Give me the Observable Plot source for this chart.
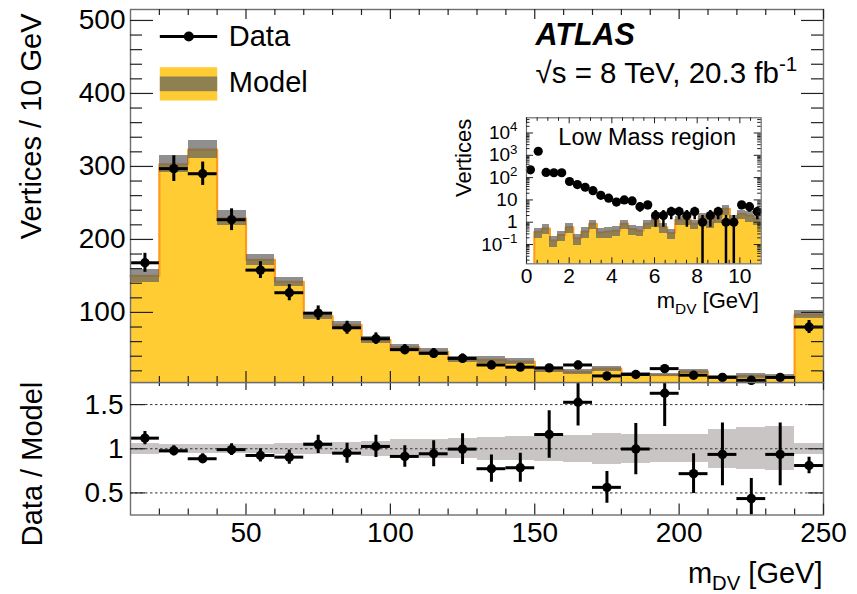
<!DOCTYPE html>
<html><head><meta charset="utf-8">
<script src="https://cdn.jsdelivr.net/npm/d3@7"></script>
<script src="https://cdn.jsdelivr.net/npm/@observablehq/plot@0.6"></script>
<style>
body{margin:0;background:#fff;}
#chart{position:relative;width:857px;height:594px;}
#chart svg{position:absolute;left:0;top:0;}
</style></head><body><div id="chart"></div>
<script>
// ---------------- DATA: main panel (10 GeV bins of m_DV) ----------------
const binEdges = [10,20,30,40,50,60,70,80,90,100,110,120,130,140,150,160,170,180,190,200,210,220,230,240,250];
const modelVertices = [150,303,323,229,172,142,95,83,62,52,46,36,35,32.5,21,18.5,23,15.5,14.2,19,11.5,13,11.5,97];
const modelUnc = [9,11.5,12,10.3,8,6,5,5,4.5,4.5,4.5,4,4.5,4.5,3,3,3.5,2.5,2.2,3,2.5,3,3,5];
const dataVertices = [168,297,290,227,158,127,99,79,64,49,44,37,28,25,24,28,13,15,23,14,11,7,11,80];
const dataUnc = [13,17.6,16,14.9,11.5,11,9.9,8.9,8,7,6.6,6.1,5.3,5,4.9,5.3,3.6,3.9,4.8,3.7,3.3,2.6,3.3,8.9];
// ratio panel
const ratioValues = [1.12,0.977,0.887,0.99,0.924,0.905,1.05,0.95,1.026,0.913,0.943,0.996,0.774,0.785,1.161,1.526,0.563,0.997,1.628,0.718,0.936,0.436,0.936,0.81];
const ratioUnc = [0.075,0.057,0.055,0.066,0.075,0.08,0.103,0.113,0.126,0.122,0.147,0.175,0.154,0.164,0.269,0.269,0.179,0.29,0.376,0.224,0.355,0.226,0.355,0.094];
const ratioBand = [0.064,0.05,0.05,0.05,0.05,0.064,0.07,0.07,0.087,0.1,0.107,0.113,0.13,0.137,0.145,0.15,0.173,0.165,0.156,0.156,0.22,0.24,0.248,0.06];
// ---------------- DATA: inset (Low Mass region) ----------------
const insetEdges = [0,0.367,0.733,1.1,1.467,1.833,2.2,2.567,2.933,3.3,3.667,4.033,4.4,4.767,5.133,5.5,5.867,6.233,6.6,6.967,7.333,7.7,8.067,8.433,8.8,9.167,9.533,9.9,10.267,10.633,11];
const insetModel = [0.004,0.37,0.52,0.15,0.27,0.6,0.19,0.38,0.85,0.35,0.38,0.42,0.85,0.5,0.42,0.85,1.2,0.6,0.33,1.3,1.3,0.85,1.7,1.0,1.7,4.0,1.4,2.4,2.0,1.4];
const insetModelUnc = [0.002,0.18,0.25,0.08,0.13,0.3,0.1,0.19,0.4,0.17,0.19,0.2,0.4,0.25,0.2,0.4,0.6,0.3,0.16,0.6,0.6,0.4,0.8,0.5,0.8,1.9,0.7,1.1,1.0,0.7];
const insetData = [224,1520,170,165,165,67,49,37,26,16,12,8,10,9,5,6,2,2,3,3,2,3,1,2,3,1,1,6,5,3];
const insetDataUnc = [15,39,13,12.8,12.8,8.2,7,6.1,5.1,4,3.5,2.8,3.2,3,2.2,2.4,1.4,1.4,1.7,1.7,1.4,1.7,1,1.4,1.7,1,1,2.4,2.2,1.7];
// ---------------- ticks & labels ----------------
const mainYTicks = [100,200,300,400,500];
const mainXTicks = [50,100,150,200,250];
const ratioYTicks = [0.5,1,1.5];
const ratioYLabels = ["0.5","1","1.5"];
const insetXTicks = [0,2,4,6,8,10];
const insetYTicks = [0.1,1,10,100,1000,10000];
const insetYLabels = ["10^{\u22121}","1","10","10^{2}","10^{3}","10^{4}"];
const mainYDomain = [4,515], ratioYDomain = [0.25,1.75], xDomain = [10,250];
const insetXDomain = [0,11], insetYDomain = [0.0137,48000];

// ---------------- styling ----------------
const W = 857, H = 594;
const FONT = "'Liberation Sans', Arial, Helvetica, sans-serif";
const STYLE = `background: transparent; font-family: ${FONT}; overflow: visible;`;
const YELLOW = "#ffcc33", ORANGE = "#ff9a1a", BANDC = "#5f5f5f", FRAMEC = "#6e6e6e", TICKC = "#222";

const bins = modelVertices.map((m,i)=>({lo:binEdges[i],hi:binEdges[i+1],c:(binEdges[i]+binEdges[i+1])/2,
  model:m,mErr:modelUnc[i],data:dataVertices[i],dErr:dataUnc[i],ratio:ratioValues[i],rErr:ratioUnc[i],band:ratioBand[i]}));
const step = bins.map(b=>({x:b.lo,y:b.model})).concat([{x:binEdges[binEdges.length-1],y:modelVertices[modelVertices.length-1]}]);
const ibins = insetModel.map((m,i)=>({lo:insetEdges[i],hi:insetEdges[i+1],c:(insetEdges[i]+insetEdges[i+1])/2,
  model:m,mErr:insetModelUnc[i],data:insetData[i],dErr:insetDataUnc[i]}));
const istep = ibins.map(b=>({x:b.lo,y:b.model})).concat([{x:insetEdges[insetEdges.length-1],y:insetModel[insetModel.length-1]}]);

function ticksX(values, lenBottom, lenTop, fh, sw=1.2){
  return [
    Plot.tickX(values,{x:d=>d,insetTop:fh-lenBottom,stroke:TICKC,strokeWidth:sw}),
    Plot.tickX(values,{x:d=>d,insetBottom:fh-lenTop,stroke:TICKC,strokeWidth:sw})
  ];
}
function ticksY(values, lenLeft, lenRight, fw, sw=1.2){
  return [
    Plot.tickY(values,{y:d=>d,insetRight:fw-lenLeft,stroke:TICKC,strokeWidth:sw}),
    Plot.tickY(values,{y:d=>d,insetLeft:fw-lenRight,stroke:TICKC,strokeWidth:sw})
  ];
}
const minorX = d3.range(20,250,10).filter(v=>v%50!==0);
const minorYMain = d3.range(20,515,20).filter(v=>v%100!==0);

// ---------------- main frame geometry ----------------
const M = {l:130,r:823,t:9,b:382};
const mfw = M.r-M.l, mfh = M.b-M.t;

const mainPlot = Plot.plot({
  width:W,height:H,marginLeft:M.l,marginRight:W-M.r,marginTop:M.t,marginBottom:H-M.b,
  style:STYLE,
  x:{domain:xDomain,axis:null},
  y:{domain:mainYDomain},
  marks:[
    Plot.areaY(step,{x:"x",y1:mainYDomain[0],y2:"y",curve:"step-after",fill:YELLOW}),
    Plot.line(step,{x:"x",y:"y",curve:"step-after",stroke:ORANGE,strokeWidth:2.2}),
    Plot.rect(bins,{x1:"lo",x2:"hi",y1:d=>d.model-d.mErr,y2:d=>d.model+d.mErr,fill:BANDC,fillOpacity:0.7,shapeRendering:"crispEdges"}),
    Plot.ruleX(bins,{x:"c",y1:d=>d.data-d.dErr,y2:d=>d.data+d.dErr,stroke:"#000",strokeWidth:3}),
    Plot.ruleY(bins,{y:"data",x1:"lo",x2:"hi",stroke:"#000",strokeWidth:3}),
    Plot.dot(bins,{x:"c",y:"data",r:4.7,fill:"#000",stroke:"none"}),
    Plot.frame({stroke:FRAMEC,strokeWidth:1.4}),
    ...ticksX(mainXTicks,11,10,mfh),
    ...ticksX(minorX,6,6,mfh),
    ...ticksY(mainYTicks,23,22,mfw),
    ...ticksY(minorYMain,12,12,mfw),
    Plot.axisY({ticks:mainYTicks,tickSize:0,tickPadding:5,fontSize:28,label:null,tickFormat:d=>String(d)}),
    // legend
    Plot.frame({fill:"#000",stroke:"none",insetLeft:29.3,insetRight:606.3,insetTop:25.5,insetBottom:344.5}),
    Plot.dot([0],{frameAnchor:"top-left",dx:58.3,dy:27,r:5,fill:"#000",stroke:"none"}),
    Plot.frame({fill:YELLOW,stroke:"none",insetLeft:29.3,insetRight:606.3,insetTop:57.7,insetBottom:282}),
    Plot.frame({fill:BANDC,fillOpacity:0.7,stroke:"none",insetLeft:29.3,insetRight:606.3,insetTop:67,insetBottom:291.3}),
    Plot.text(["Data"],{text:d=>d,frameAnchor:"top-left",dx:98.3,dy:27,textAnchor:"start",lineAnchor:"middle",fontSize:29,fill:"#000"}),
    Plot.text(["Model"],{text:d=>d,frameAnchor:"top-left",dx:98.3,dy:73.5,textAnchor:"start",lineAnchor:"middle",fontSize:29,fill:"#000"}),
    Plot.text(["ATLAS"],{text:d=>d,frameAnchor:"top-left",dx:405,dy:26,textAnchor:"start",lineAnchor:"middle",fontSize:30.5,fontWeight:"bold",fontStyle:"italic",fill:"#000"}),
    Plot.text(["\u221As = 8 TeV, 20.3 fb^{-1}"],{text:d=>d,frameAnchor:"top-left",dx:405,dy:64,textAnchor:"start",lineAnchor:"middle",fontSize:29.5,fill:"#000"}),
    Plot.text(["Vertices / 10 GeV"],{text:d=>d,frameAnchor:"top-left",dx:-98.8,dy:4,rotate:-90,textAnchor:"end",lineAnchor:"middle",fontSize:29,fill:"#000"})
  ]
});

// ---------------- ratio panel ----------------
const R = {l:130,r:823,t:382,b:514.5};
const rfw = R.r-R.l, rfh = R.b-R.t;
const ratioPlot = Plot.plot({
  width:W,height:H,marginLeft:R.l,marginRight:W-R.r,marginTop:R.t,marginBottom:H-R.b,
  style:STYLE,
  x:{domain:xDomain},
  y:{domain:ratioYDomain},
  marks:[
    Plot.rect(bins,{x1:"lo",x2:"hi",y1:d=>1-d.band,y2:d=>1+d.band,fill:"#c9c5c5",shapeRendering:"crispEdges"}),
    Plot.ruleY(ratioYTicks,{stroke:"#333",strokeDasharray:"2.5,2.5",strokeWidth:1}),
    Plot.ruleX(bins,{x:"c",y1:d=>d.ratio-d.rErr,y2:d=>d.ratio+d.rErr,stroke:"#000",strokeWidth:3,clip:true}),
    Plot.ruleY(bins,{y:"ratio",x1:"lo",x2:"hi",stroke:"#000",strokeWidth:3}),
    Plot.dot(bins,{x:"c",y:"ratio",r:4.7,fill:"#000",stroke:"none"}),
    Plot.frame({stroke:FRAMEC,strokeWidth:1.4}),
    ...ticksX(mainXTicks,11,8,rfh),
    ...ticksX(minorX,6,4,rfh),
    ...ticksY(ratioYTicks,15,15,rfw),
    Plot.axisX({ticks:mainXTicks,tickSize:0,tickPadding:7,fontSize:28,label:null,tickFormat:d=>String(d)}),
    Plot.axisY({ticks:ratioYTicks,tickSize:0,tickPadding:7,fontSize:28,label:null,tickFormat:(d)=>ratioYLabels[ratioYTicks.indexOf(d)]}),
    Plot.text(["m_{DV} [GeV]"],{text:d=>d,frameAnchor:"bottom-right",dx:-1,dy:58.5,textAnchor:"end",lineAnchor:"middle",fontSize:29,fill:"#000"}),
    Plot.text(["Data / Model"],{text:d=>d,frameAnchor:"top-left",dx:-97.5,dy:81.5,rotate:-90,textAnchor:"middle",lineAnchor:"middle",fontSize:29,fill:"#000"})
  ]
});

// ---------------- inset ----------------
const I = {l:526,r:760.7,t:117.3,b:263.3};
const ifw = I.r-I.l, ifh = I.b-I.t;
const insetMinorX = d3.range(0.5,11,0.5).filter(v=>v%2!==0);
const insetMinorY = [];
for (const dec of [0.01,0.1,1,10,100,1000,10000]) for (let k=2;k<=9;k++){const v=k*dec; if(v>insetYDomain[0]&&v<insetYDomain[1]) insetMinorY.push(v);}
const insetPlot = Plot.plot({
  width:W,height:H,marginLeft:I.l,marginRight:W-I.r,marginTop:I.t,marginBottom:H-I.b,
  style:STYLE,
  x:{domain:insetXDomain},
  y:{type:"log",domain:insetYDomain},
  marks:[
    Plot.areaY(istep,{x:"x",y1:insetYDomain[0],y2:"y",curve:"step-after",fill:YELLOW,clip:true}),
    Plot.line(istep,{x:"x",y:"y",curve:"step-after",stroke:ORANGE,strokeWidth:2,clip:true}),
    Plot.rect(ibins,{x1:"lo",x2:"hi",y1:d=>d.model-d.mErr,y2:d=>d.model+d.mErr,fill:BANDC,fillOpacity:0.7,clip:true,shapeRendering:"crispEdges"}),
    Plot.ruleX(ibins,{x:"c",y1:d=>Math.max(d.data-d.dErr,1e-3),y2:d=>d.data+d.dErr,stroke:"#000",strokeWidth:2.5,clip:true}),
    Plot.dot(ibins,{x:"c",y:"data",r:4.6,fill:"#000",stroke:"none"}),
    Plot.frame({stroke:FRAMEC,strokeWidth:1.2}),
    ...ticksX(insetXTicks,6,6,ifh,1),
    ...ticksX(insetMinorX,3.5,3.5,ifh,1),
    ...ticksY(insetYTicks,7,7,ifw,1),
    ...ticksY(insetMinorY,3.5,3.5,ifw,1),
    Plot.axisX({ticks:insetXTicks,tickSize:0,tickPadding:4,fontSize:21,label:null,tickFormat:d=>String(d)}),
    Plot.axisY({ticks:insetYTicks,tickSize:0,tickPadding:9,fontSize:19,label:null,tickFormat:d=>insetYLabels[insetYTicks.indexOf(d)]}),
    Plot.text(["Low Mass region"],{text:d=>d,frameAnchor:"top",dx:3.3,dy:19.2,textAnchor:"middle",lineAnchor:"middle",fontSize:23.5,fill:"#000"}),
    Plot.text(["Vertices"],{text:d=>d,frameAnchor:"top-left",dx:-63,dy:1,rotate:-90,textAnchor:"end",lineAnchor:"middle",fontSize:22,fill:"#000"}),
    Plot.text(["m_{DV} [GeV]"],{text:d=>d,frameAnchor:"bottom-right",dx:-2.4,dy:37,textAnchor:"end",lineAnchor:"middle",fontSize:22,fill:"#000"})
  ]
});

const chart = document.getElementById("chart");
chart.appendChild(ratioPlot);
chart.appendChild(mainPlot);
chart.appendChild(insetPlot);

// super/subscript markup: ^{..} and _{..}
function richText(root){
  root.querySelectorAll("text").forEach(el=>{
    const t = el.textContent;
    if (!/[\^_]\{/.test(t)) return;
    const fs = parseFloat(getComputedStyle(el).fontSize) || 20;
    while (el.firstChild) el.removeChild(el.firstChild);
    const NS = "http://www.w3.org/2000/svg";
    let cur = 0, last = 0, m;
    const re = /([\^_])\{([^}]*)\}/g;
    const add = (txt, target, small) => {
      const ts = document.createElementNS(NS,"tspan");
      ts.textContent = txt;
      const dy = target - cur;
      if (dy) ts.setAttribute("dy", dy.toFixed(2));
      if (small) ts.setAttribute("font-size", (fs*0.7).toFixed(2));
      cur = target;
      el.appendChild(ts);
    };
    while ((m = re.exec(t))) {
      if (m.index > last) add(t.slice(last, m.index), 0, false);
      add(m[2], m[1] === "^" ? -0.4*fs : 0.26*fs, true);
      last = re.lastIndex;
    }
    if (last < t.length) add(t.slice(last), 0, false);
  });
}
[ratioPlot, mainPlot, insetPlot].forEach(richText);
</script></body></html>
